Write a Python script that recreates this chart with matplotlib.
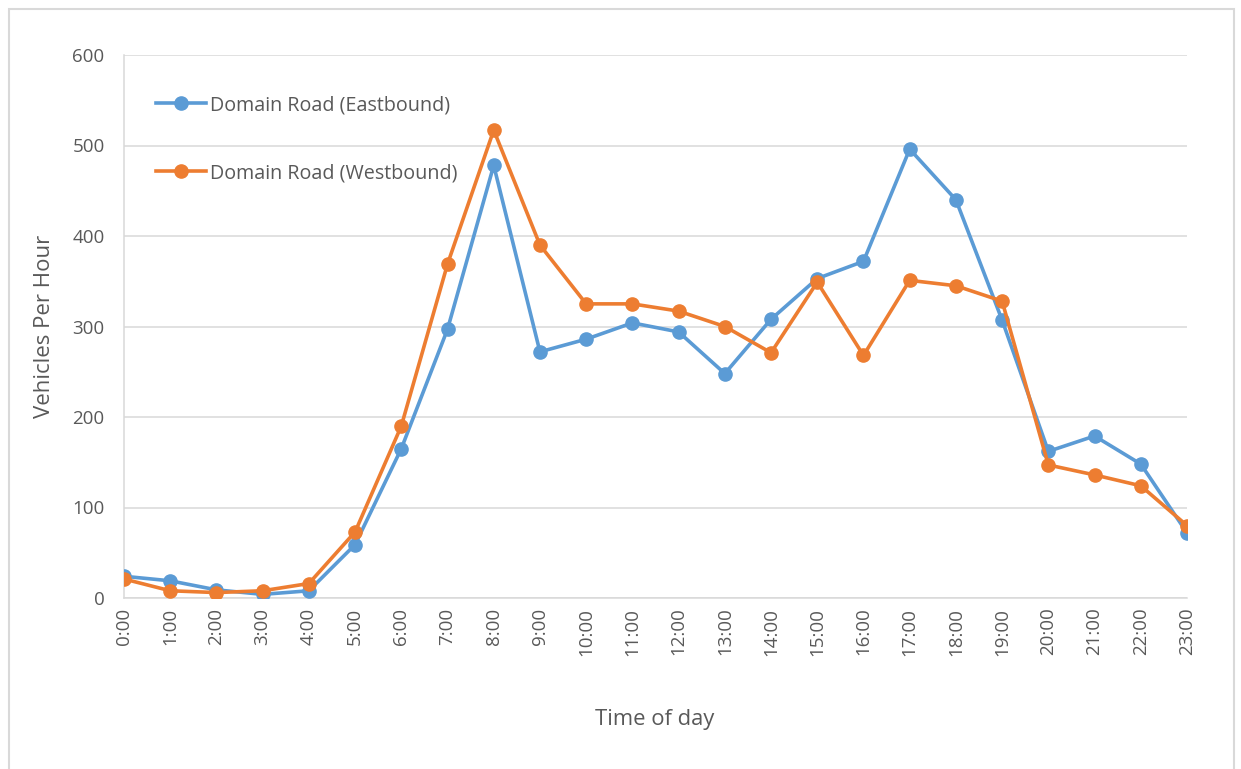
import matplotlib
matplotlib.use("Agg")
import matplotlib.pyplot as plt
from matplotlib.patches import Rectangle

# Hourly traffic counts on Domain Road
hours = [f"{h}:00" for h in range(24)]
eastbound = [24, 19, 9, 4, 8, 59, 165, 297, 478, 272, 286, 304, 294, 248,
             308, 353, 372, 496, 440, 307, 162, 179, 148, 72]
westbound = [21, 8, 6, 8, 16, 73, 190, 369, 517, 390, 325, 325, 317, 300,
             271, 349, 268, 351, 345, 328, 147, 136, 124, 80]
series_names = ["Domain Road (Eastbound)", "Domain Road (Westbound)"]
y_ticks = [0, 100, 200, 300, 400, 500, 600]

W, H = 1241, 769
fig = plt.figure(figsize=(W / 100, H / 100), dpi=100)
plt.rcParams["font.family"] = ["Open Sans", "DejaVu Sans"]
text_color = "#595959"
grid_color = "#D9D9D9"

# outer chart border
fig.patches.append(Rectangle((9 / W, -0.05), (1234 - 9) / W, 1.05 - 9 / H,
                             transform=fig.transFigure, fill=False,
                             edgecolor="#D9D9D9", linewidth=1.5))

left, right = 124 / W, 1187 / W
bottom, top = 1 - 598 / H, 1 - 55 / H
ax = fig.add_axes([left, bottom, right - left, top - bottom])

x = list(range(len(hours)))
ax.plot(x, eastbound, color="#5B9BD5", linewidth=2.6, marker="o",
        markersize=9.5, label=series_names[0], zorder=3)
ax.plot(x, westbound, color="#ED7D31", linewidth=2.6, marker="o",
        markersize=9.5, label=series_names[1], zorder=4)

ax.set_xlim(0, 23)
ax.set_ylim(0, 600)
ax.set_yticks(y_ticks)
ax.set_xticks(x)
ax.set_xticklabels(hours, rotation=90)
ax.grid(axis="y", color=grid_color, linewidth=1.1)
ax.set_axisbelow(True)
for side in ["top", "right"]:
    ax.spines[side].set_visible(False)
ax.spines["left"].set_color(grid_color)
ax.spines["bottom"].set_color(grid_color)
ax.spines["left"].set_linewidth(1.1)
ax.spines["bottom"].set_linewidth(1.1)
ax.tick_params(axis="both", length=0, labelsize=13.5, labelcolor=text_color)
ax.tick_params(axis="y", pad=14)
ax.tick_params(axis="x", pad=7)

leg = ax.legend(loc="upper left", bbox_to_anchor=((156 - 124) / (1187 - 124), 1 - (95 - 55) / (598 - 55)),
                frameon=False, fontsize=14.2, handlelength=2.55, handletextpad=0.2,
                labelspacing=2.45, borderaxespad=0, borderpad=0)
for t in leg.get_texts():
    t.set_color(text_color)

fig.text(45 / W, 1 - 326 / H, "Vehicles Per Hour", rotation=90, ha="center",
         va="center", fontsize=16, color=text_color)
fig.text(655 / W, 1 - 720 / H, "Time of day", ha="center", va="center",
         fontsize=15.8, color=text_color)

fig.savefig("out.png", dpi=100, facecolor="white")
